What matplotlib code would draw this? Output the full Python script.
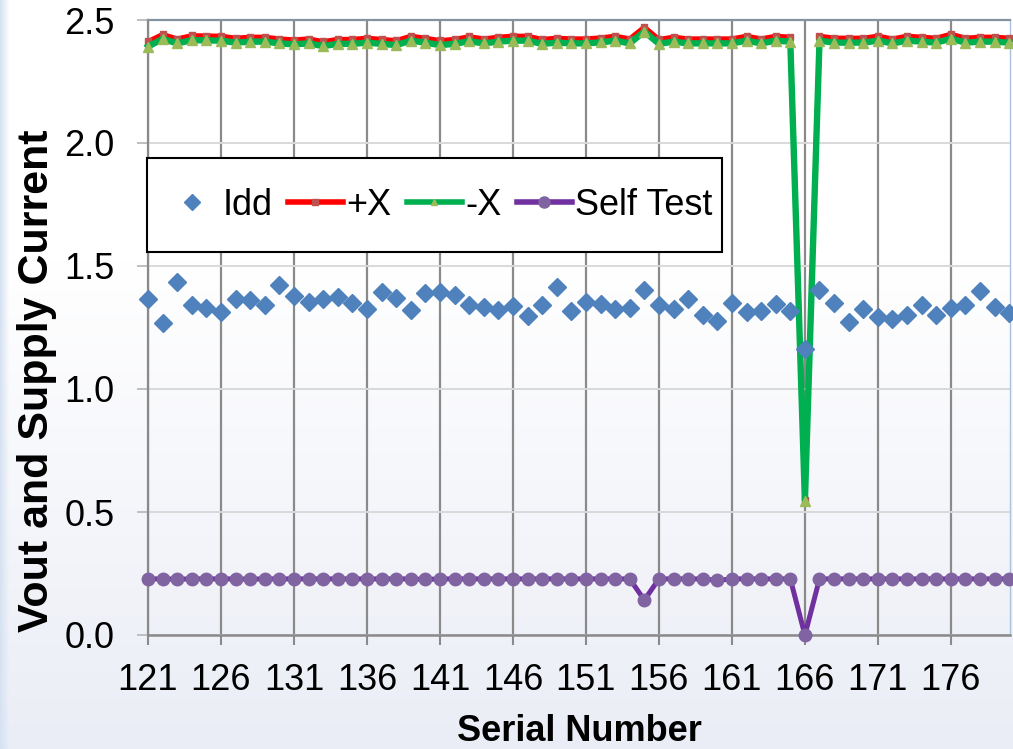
import numpy as np
import matplotlib.pyplot as plt
from matplotlib.lines import Line2D
from matplotlib.patches import Rectangle

serial = list(range(121, 181))

idd = [1.366, 1.267, 1.436, 1.341, 1.328, 1.314, 1.366, 1.362, 1.341, 1.423,
       1.378, 1.352, 1.365, 1.375, 1.351, 1.327, 1.396, 1.369, 1.321, 1.389,
       1.393, 1.382, 1.341, 1.335, 1.321, 1.337, 1.297, 1.341, 1.416, 1.318,
       1.355, 1.345, 1.324, 1.328, 1.402, 1.341, 1.324, 1.365, 1.301, 1.276,
       1.351, 1.314, 1.317, 1.344, 1.317, 1.161, 1.402, 1.351, 1.271, 1.325,
       1.291, 1.283, 1.301, 1.341, 1.301, 1.331, 1.341, 1.398, 1.335, 1.310]

plus_x = [2.413, 2.442, 2.424, 2.437, 2.436, 2.435, 2.427, 2.431, 2.431, 2.424,
          2.420, 2.424, 2.413, 2.422, 2.422, 2.427, 2.422, 2.417, 2.435, 2.427,
          2.417, 2.422, 2.433, 2.424, 2.431, 2.435, 2.435, 2.422, 2.427, 2.424,
          2.424, 2.428, 2.435, 2.424, 2.472, 2.422, 2.431, 2.424, 2.424, 2.424,
          2.424, 2.435, 2.424, 2.435, 2.431, 0.550, 2.435, 2.427, 2.427, 2.427,
          2.435, 2.424, 2.435, 2.431, 2.427, 2.443, 2.427, 2.431, 2.431, 2.427]

minus_x = [2.392, 2.423, 2.405, 2.418, 2.417, 2.416, 2.408, 2.412, 2.412, 2.405,
           2.401, 2.405, 2.394, 2.403, 2.403, 2.408, 2.403, 2.398, 2.416, 2.408,
           2.398, 2.403, 2.414, 2.405, 2.412, 2.416, 2.416, 2.403, 2.408, 2.405,
           2.405, 2.409, 2.416, 2.405, 2.453, 2.403, 2.412, 2.405, 2.405, 2.405,
           2.405, 2.416, 2.405, 2.416, 2.412, 0.545, 2.416, 2.408, 2.408, 2.408,
           2.416, 2.405, 2.416, 2.412, 2.408, 2.424, 2.408, 2.412, 2.412, 2.408]

self_test = [0.228, 0.228, 0.227, 0.228, 0.228, 0.228, 0.228, 0.227, 0.228, 0.228,
             0.228, 0.228, 0.228, 0.228, 0.228, 0.228, 0.228, 0.228, 0.228, 0.226,
             0.228, 0.228, 0.228, 0.228, 0.228, 0.228, 0.228, 0.228, 0.228, 0.228,
             0.228, 0.228, 0.228, 0.228, 0.142, 0.228, 0.228, 0.228, 0.228, 0.222,
             0.228, 0.228, 0.228, 0.228, 0.228, 0.000, 0.228, 0.228, 0.228, 0.228,
             0.228, 0.228, 0.228, 0.228, 0.228, 0.228, 0.228, 0.228, 0.228, 0.228]

xticks = list(range(121, 181, 5))
yticks = [0.0, 0.5, 1.0, 1.5, 2.0, 2.5]

plt.rcParams['font.family'] = ['Liberation Sans', 'DejaVu Sans']

fig = plt.figure(figsize=(10.13, 7.49), dpi=100)

# pale slide background behind the chart
bg = fig.add_axes([0, 0, 1, 1], zorder=-10)
h, w = 749, 1013
t = np.clip((np.linspace(0, 1, h) - 0.35) / 0.65, 0, 1)[:, None, None]
top = np.array([1.0, 1.0, 1.0])
bottom = np.array([0.92, 0.93, 0.965])
img = top * (1 - t) + bottom * t
img = np.repeat(img, w, axis=1)
edge = np.clip(1 - np.arange(w) / 9.0, 0, 1)[None, :, None]
img = img * (1 - edge) + np.array([0.84, 0.89, 0.95]) * edge
bg.imshow(img, aspect='auto', extent=[0, 1, 0, 1])
bg.axis('off')

ax = fig.add_axes([148 / 1013, 1 - 635 / 749, 862 / 1013, 615 / 749])
ax.set_facecolor('none')

ax.plot(serial, plus_x, color='#FF0000', lw=3.4, marker='s', ms=5,
        mfc='#C0504D', mec='#C0504D', zorder=3, clip_on=False, label='+X')
ax.plot(serial, minus_x, color='#00B050', lw=4.6, marker='^', ms=6.5,
        mfc='#9BBB59', mec='#9BBB59', zorder=4, clip_on=False, label='-X')
ax.plot(serial, self_test, color='#7030A0', lw=3.6, marker='o', ms=9,
        mfc='#8064A2', mec='#8064A2', zorder=5, clip_on=False, label='Self Test')
ax.plot(serial, idd, ls='none', marker='D', ms=9.5, color='#4F81BD',
        zorder=6, clip_on=False, label='Idd')

ax.set_xlim(121, 180.05)
ax.set_ylim(0, 2.5)
ax.set_xticks(xticks)
ax.set_yticks(yticks)
ax.set_yticklabels([f'{v:.1f}' for v in yticks])

ax.grid(axis='x', color='#8A8A8A', lw=1.6, zorder=0)
ax.grid(axis='y', color='#D9D9D9', lw=1.4, zorder=0)
ax.tick_params(axis='x', labelsize=26, length=7, width=1.5, color='#8A8A8A', pad=13)
ax.tick_params(axis='y', labelsize=26, length=8, width=1.4, color='#BFBFBF', pad=16)

ax.spines['top'].set_color('#8593A0')
ax.spines['top'].set_linewidth(1.6)
ax.spines['bottom'].set_color('#8A8A8A')
ax.spines['bottom'].set_linewidth(1.8)
ax.spines['left'].set_color('#8A8A8A')
ax.spines['left'].set_linewidth(1.6)
ax.spines['right'].set_color('#A9C3DC')
ax.spines['right'].set_linewidth(1.0)

ax.set_xlabel('Serial Number', fontsize=26, fontweight='bold', labelpad=12)
ax.set_ylabel('Vout and Supply Current', fontsize=31, fontweight='bold')
ax.yaxis.set_label_coords(-0.106, 0.413)

# legend box (drawn separately so it can be taller than the entries)
box = Rectangle((-0.001, 0.623), 0.667, 0.153, transform=ax.transAxes,
                facecolor='white', edgecolor='black', lw=1.5, zorder=9, clip_on=False)
ax.add_patch(box)

handles = [
    Line2D([], [], ls='none', marker='D', ms=8, color='#4F81BD'),
    Line2D([], [], color='#FF0000', lw=4, marker='s', ms=5, mfc='#C0504D', mec='#C0504D'),
    Line2D([], [], color='#00B050', lw=4, marker='^', ms=5, mfc='#9BBB59', mec='#9BBB59'),
    Line2D([], [], color='#7030A0', lw=4, marker='o', ms=8, mfc='#8064A2', mec='#8064A2'),
]
leg = ax.legend(handles, ['Idd', '+X', '-X', 'Self Test'], ncol=4, loc='center left',
                bbox_to_anchor=(0.0, 0.699), fontsize=26, frameon=False,
                handlelength=1.52, handletextpad=0.1,
                columnspacing=0.42, borderpad=0.45, borderaxespad=0)
leg.set_zorder(10)

plt.savefig('out.png', dpi=100)
